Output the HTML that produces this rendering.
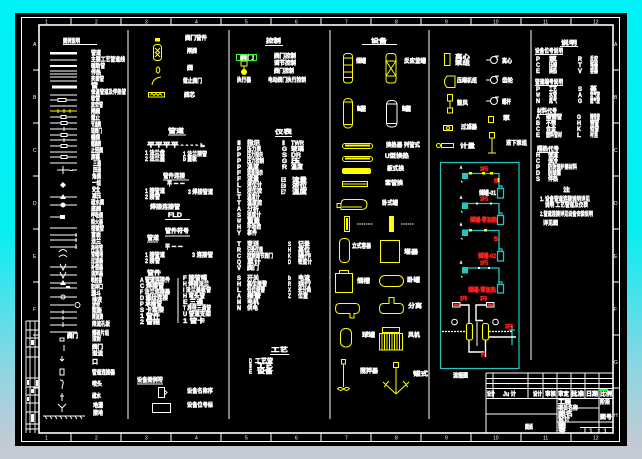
<!DOCTYPE html>
<html><head><meta charset="utf-8"><title>diagram</title>
<style>
html,body{margin:0;padding:0;background:#00f0f4;overflow:hidden;width:642px;height:459px}
svg{display:block}
.t{font-family:"Liberation Sans","Noto Sans CJK SC",sans-serif;font-weight:bold;font-size:6px;fill:#fff;stroke:#fff;stroke-width:0.45}
.s{font-size:5px;font-weight:normal;stroke-width:0}
.r{fill:#ff2020;stroke:#ff2020}
.yy{fill:#ffff00}
</style></head><body>
<svg xmlns="http://www.w3.org/2000/svg" width="642" height="459" viewBox="0 0 642 459">
<defs>
<linearGradient id="bg" x1="0" y1="0" x2="0" y2="1">
<stop offset="0" stop-color="#00f2f6"/>
<stop offset="0.5" stop-color="#06eef2"/>
<stop offset="0.8" stop-color="#8cd6e2"/>
<stop offset="0.97" stop-color="#c4cad4"/>
</linearGradient>
</defs>
<rect width="642" height="459" fill="url(#bg)"/>
<rect x="0" y="446" width="642" height="13" fill="#c4cad4"/>
<rect x="15" y="13" width="612" height="433" fill="#000"/>

<!-- borders -->
<g fill="none" stroke="#fff">
<rect x="21.5" y="17.5" width="598" height="424" stroke-width="1"/>
<rect x="39" y="25" width="574" height="408" stroke-width="1.6"/>
<path stroke-width="1" d="M71 17V25M121 17V25M171 17V25M221 17V25M271 17V25M321 17V25M371 17V25M421 17V25M471 17V25M521 17V25M571 17V25
M71 433V441M121 433V441M171 433V441M221 433V441M271 433V441M321 433V441M371 433V441M421 433V441M471 433V441M521 433V441M571 433V441
M33 70H39M33 123H39M33 176H39M33 229H39M33 282H39M33 335H39M33 388H39
M613 70H619M613 123H619M613 176H619M613 229H619M613 282H619M613 335H619M613 388H619"/>
</g>
<g>
<text class="t s" x="45" y="23.5">1</text><text class="t s" x="95" y="23.5">2</text><text class="t s" x="145" y="23.5">3</text><text class="t s" x="195" y="23.5">4</text><text class="t s" x="245" y="23.5">5</text><text class="t s" x="295" y="23.5">6</text><text class="t s" x="345" y="23.5">7</text><text class="t s" x="395" y="23.5">8</text><text class="t s" x="445" y="23.5">9</text><text class="t s" x="493" y="23.5">10</text><text class="t s" x="543" y="23.5">11</text><text class="t s" x="593" y="23.5">12</text>
<text class="t s" x="45" y="439.5">1</text><text class="t s" x="95" y="439.5">2</text><text class="t s" x="145" y="439.5">3</text><text class="t s" x="195" y="439.5">4</text><text class="t s" x="245" y="439.5">5</text><text class="t s" x="295" y="439.5">6</text><text class="t s" x="345" y="439.5">7</text><text class="t s" x="395" y="439.5">8</text><text class="t s" x="445" y="439.5">9</text><text class="t s" x="493" y="439.5">10</text><text class="t s" x="543" y="439.5">11</text><text class="t s" x="593" y="439.5">12</text>
<text class="t s" x="33" y="46">A</text><text class="t s" x="33" y="99">B</text><text class="t s" x="33" y="152">C</text><text class="t s" x="33" y="205">D</text><text class="t s" x="33" y="258">E</text><text class="t s" x="33" y="311">F</text>
<text class="t s" x="614" y="46">A</text><text class="t s" x="614" y="99">B</text><text class="t s" x="614" y="152">C</text><text class="t s" x="614" y="205">D</text><text class="t s" x="614" y="258">E</text><text class="t s" x="614" y="311">F</text><text class="t s" x="614" y="364">G</text><text class="t s" x="614" y="417">H</text>
</g>

<!-- left rotated title block -->
<g fill="none" stroke="#fff" stroke-width="0.9">
<path d="M26 321V433M30 321V433M35 321V433M26 321H39M26 330H39M26 338H39M26 347H39M26 357H39M26 378H39M26 387H39M26 395H39M26 403H39M26 412H39M26 424H39M26 429H39"/>
</g>
<g fill="#fff"><rect x="31" y="340" width="3" height="5"/><rect x="27" y="380" width="2" height="5"/><rect x="31" y="389" width="3" height="4"/><rect x="36" y="380" width="2" height="6"/><rect x="31" y="414" width="3" height="8"/><rect x="27" y="397" width="2" height="4"/></g>

<!-- column dividers -->
<g stroke="#fff" stroke-width="1">
<path d="M128 30V419M229 30V419M330 30V419M429 30V419M531 30V360"/>
</g>

<!-- ========== COLUMN 1 ========== -->
<text class="t" x="63" y="43" textLength="17" lengthAdjust="spacingAndGlyphs">图例说明</text>
<path d="M63 44.5H97" stroke="#fff"/>
<g fill="#fff">
<rect x="50" y="52" width="27" height="2.5"/>
<rect x="50" y="65" width="27" height="2"/>
<rect x="52" y="85.5" width="25" height="3"/>
</g>
<g stroke="#fff" stroke-width="1" fill="none">
<path d="M50 60H77M50 71H77M50 74H77M50 77H77M50 81H77M50 95H77M50 100H77M50 106H77M50 117H77M50 123H77M50 129H77M50 135H77M50 140H77M50 146H77M50 152H77M50 157H77M50 163H77M57 170H70M72 170H77M50 197H77M50 205H77M50 217H65M50 228H77M50 235H77M50 240H77M50 247H77M50 267H77M50 275H77M50 283H77M50 288H77M50 297H77M50 305H74M50 312H77M50 318H77M50 325H77M50 332H77"/>
<path d="M64 127V131M64 138V142M63 166V174M76 233V237M76 238V242M76 244V249M63 310V314M63 316V320M63 322V327M64 345V351M62 356V361M62 361L60 359M62 361L64 359M62 393V401M60 396H64M58 404L62 408L66 404M62 408V412"/>
<rect x="58" y="98.5" width="8" height="3" fill="#000"/>
<rect x="61" y="115.5" width="5" height="3" fill="#000"/>
<rect x="61" y="121.5" width="6" height="3" fill="#000"/>
<rect x="61" y="133.5" width="6" height="3" fill="#000"/>
<rect x="61" y="144.5" width="6" height="3" fill="#000"/>
<rect x="61" y="155.5" width="6" height="3" fill="#000"/>
<circle cx="77.5" cy="305" r="2.5" fill="#000"/>
<circle cx="63" cy="297" r="2"/>
<path d="M60 264L63 270L66 264M60 272L63 278L66 272"/>
<path d="M59 252Q63 247 67 252M59 257Q63 253 67 257"/>
<rect x="60" y="338" width="4" height="3"/>
<rect x="60" y="369" width="4" height="6"/>
<path d="M60 380Q64 380 63 384Q62 387 62 389"/>
<path d="M43 416H85"/>
<path d="M45 416L47 419M50 416L52 419M55 416L57 419M60 416L62 419M65 416L67 419M70 416L72 419M75 416L77 419M80 416L82 419"/>
</g>
<g fill="#fff">
<path d="M63 182L66 185L63 188L60 185Z"/>
<path d="M60 199L63 194L66 199Z"/>
<circle cx="63" cy="205" r="2.5"/>
<path d="M60 285L63 280L66 285Z"/>
<rect x="66" y="286" width="4" height="2"/>
<rect x="60" y="215" width="5" height="4"/>
<rect x="70" y="170" width="3" height="1"/>
</g>
<path d="M50 111H77" stroke="#ffff00"/>
<path d="M58 109V113M64 109V113M70 109V113" stroke="#ffff00"/>
<g>
<text class="t" x="91" y="55" textLength="10" lengthAdjust="spacingAndGlyphs">管道</text>
<text class="t" x="91" y="61.5" textLength="34" lengthAdjust="spacingAndGlyphs">主要工艺管道线</text>
<text class="t" x="91" y="68" textLength="14" lengthAdjust="spacingAndGlyphs">辅助管</text>
<text class="t" x="91" y="74.5" textLength="10" lengthAdjust="spacingAndGlyphs">伴热</text>
<text class="t" x="91" y="81" textLength="13" lengthAdjust="spacingAndGlyphs">夹套管</text>
<text class="t" x="91" y="87.5" textLength="7" lengthAdjust="spacingAndGlyphs">管</text>
<text class="t" x="91" y="94" textLength="35" lengthAdjust="spacingAndGlyphs">保温管道及伴热管</text>
<text class="t" x="91" y="100.5" textLength="9" lengthAdjust="spacingAndGlyphs">软管</text>
<text class="t" x="91" y="107" textLength="12" lengthAdjust="spacingAndGlyphs">放空管</text>
<text class="t" x="91" y="113.5" textLength="9" lengthAdjust="spacingAndGlyphs">闸阀</text>
<text class="t" x="91" y="120" textLength="9" lengthAdjust="spacingAndGlyphs">截止</text>
<text class="t" x="91" y="126.5" textLength="10" lengthAdjust="spacingAndGlyphs">节流阀</text>
<text class="t" x="91" y="133" textLength="11" lengthAdjust="spacingAndGlyphs">球阀门</text>
<text class="t" x="91" y="139.5" textLength="9" lengthAdjust="spacingAndGlyphs">蝶阀</text>
<text class="t" x="91" y="146" textLength="10" lengthAdjust="spacingAndGlyphs">隔膜阀</text>
<text class="t" x="91" y="152.5" textLength="12" lengthAdjust="spacingAndGlyphs">止回阀</text>
<text class="t" x="91" y="159" textLength="9" lengthAdjust="spacingAndGlyphs">旋塞</text>
<text class="t" x="93" y="165.5" textLength="8" lengthAdjust="spacingAndGlyphs">三通</text>
<text class="t" x="93" y="172" textLength="8" lengthAdjust="spacingAndGlyphs">四通</text>
<text class="t" x="92" y="178.5" textLength="9" lengthAdjust="spacingAndGlyphs">角阀</text>
<text class="t" x="92" y="185" textLength="9" lengthAdjust="spacingAndGlyphs">一组</text>
<text class="t" x="92" y="191.5" textLength="8" lengthAdjust="spacingAndGlyphs">安全</text>
<text class="t" x="92" y="198" textLength="9" lengthAdjust="spacingAndGlyphs">减压</text>
<text class="t" x="91" y="204.5" textLength="13" lengthAdjust="spacingAndGlyphs">疏水阀</text>
<text class="t" x="91" y="211" textLength="10" lengthAdjust="spacingAndGlyphs">底阀</text>
<text class="t" x="91" y="217.5" textLength="12" lengthAdjust="spacingAndGlyphs">呼吸阀</text>
<text class="t" x="91" y="224" textLength="12" lengthAdjust="spacingAndGlyphs">阻火器</text>
<text class="t" x="91" y="230.5" textLength="13" lengthAdjust="spacingAndGlyphs">视镜管</text>
<text class="t" x="91" y="237" textLength="10" lengthAdjust="spacingAndGlyphs">盲板</text>
<text class="t" x="91" y="243.5" textLength="10" lengthAdjust="spacingAndGlyphs">法兰</text>
<text class="t" x="91" y="250" textLength="12" lengthAdjust="spacingAndGlyphs">异径管</text>
<text class="t" x="91" y="256.5" textLength="12" lengthAdjust="spacingAndGlyphs">管帽堵</text>
<text class="t" x="91" y="263" textLength="12" lengthAdjust="spacingAndGlyphs">过滤器</text>
<text class="t" x="91" y="269.5" textLength="12" lengthAdjust="spacingAndGlyphs">补偿器</text>
<text class="t" x="91" y="276" textLength="12" lengthAdjust="spacingAndGlyphs">消声器</text>
<text class="t" x="91" y="282.5" textLength="11" lengthAdjust="spacingAndGlyphs">喷射器</text>
<text class="t" x="91" y="289" textLength="12" lengthAdjust="spacingAndGlyphs">取样口</text>
<text class="t" x="91" y="295.5" textLength="10" lengthAdjust="spacingAndGlyphs">漏斗</text>
<text class="t" x="92" y="302" textLength="10" lengthAdjust="spacingAndGlyphs">排液</text>
<text class="t" x="92" y="307.5" textLength="8" lengthAdjust="spacingAndGlyphs">放空</text>
<text class="t" x="92" y="313" textLength="10" lengthAdjust="spacingAndGlyphs">阻断</text>
<text class="t" x="92" y="319" textLength="11" lengthAdjust="spacingAndGlyphs">限流阀</text>
<text class="t" x="92" y="326" textLength="18" lengthAdjust="spacingAndGlyphs">限流孔板</text>
<text class="t" x="92" y="335" textLength="17" lengthAdjust="spacingAndGlyphs">爆破片组</text>
<text class="t" x="92" y="341" textLength="9" lengthAdjust="spacingAndGlyphs">液封</text>
<text class="t" x="92" y="349" textLength="11" lengthAdjust="spacingAndGlyphs">阀门</text>
<text class="t" x="92" y="355.5" textLength="11" lengthAdjust="spacingAndGlyphs">溢流</text>
<text class="t" x="92" y="364" textLength="6" lengthAdjust="spacingAndGlyphs">口</text>
<text class="t" x="92" y="374.5" textLength="23" lengthAdjust="spacingAndGlyphs">管道连接器</text>
<text class="t" x="92" y="386" textLength="10" lengthAdjust="spacingAndGlyphs">喷头</text>
<text class="t" x="92" y="398" textLength="9" lengthAdjust="spacingAndGlyphs">疏水</text>
<text class="t" x="93" y="407.5" textLength="10" lengthAdjust="spacingAndGlyphs">地漏</text>
<text class="t" x="93" y="415" textLength="10" lengthAdjust="spacingAndGlyphs">接地</text>
<text class="t" x="67" y="338" textLength="11" lengthAdjust="spacingAndGlyphs">阀门</text>
</g>

<!-- ========== COLUMN 2 ========== -->
<g fill="none" stroke="#ffff00" stroke-width="1">
<rect x="153.5" y="44.5" width="8" height="16" rx="3"/>
<path d="M155 48L160 53M155 53L160 48M155 52L160 57M155 57L160 52"/>
<ellipse cx="158" cy="70" rx="1.8" ry="3"/>
<path d="M152 85Q153 78 161 77"/>
<rect x="148.5" y="92.5" width="16" height="4.5"/>
<path d="M150 95L152 93.5L154 95.5L156 93.5L158 95.5L160 93.5L162 95.5"/>
</g>
<rect x="155" y="38" width="5" height="3.5" fill="#ffff00"/>
<g>
<text class="t" x="185" y="40" textLength="22" lengthAdjust="spacingAndGlyphs">阀门管件</text>
<text class="t" x="187" y="53" textLength="10" lengthAdjust="spacingAndGlyphs">闸阀</text>
<text class="t" x="187" y="70" textLength="6" lengthAdjust="spacingAndGlyphs">阀</text>
<text class="t" x="183" y="83" textLength="19" lengthAdjust="spacingAndGlyphs">截止阀门</text>
<text class="t" x="184" y="97" textLength="11" lengthAdjust="spacingAndGlyphs">阀芯</text>

<text class="t" x="168" y="133" textLength="16" lengthAdjust="spacingAndGlyphs">管道</text>
<text class="t" x="147" y="147" textLength="58" lengthAdjust="spacingAndGlyphs">平平平平 - - - - ь</text>
<text class="t" x="145" y="155" textLength="20" lengthAdjust="spacingAndGlyphs">1 法兰盘</text>
<text class="t" x="145" y="161" textLength="20" lengthAdjust="spacingAndGlyphs">2 法兰盖</text>
<text class="t" x="183" y="156" textLength="24" lengthAdjust="spacingAndGlyphs">1 法兰接管</text>
<text class="t" x="183" y="161" textLength="14" lengthAdjust="spacingAndGlyphs">b 盖板</text>
<text class="t" x="163" y="178" textLength="22" lengthAdjust="spacingAndGlyphs">管件连接</text>
<text class="t" x="167" y="186" textLength="18" lengthAdjust="spacingAndGlyphs">平 ー ー</text>
<text class="t" x="145" y="193" textLength="20" lengthAdjust="spacingAndGlyphs">1 接管道</text>
<text class="t" x="145" y="199" textLength="15" lengthAdjust="spacingAndGlyphs">2 接管</text>
<text class="t" x="188" y="194" textLength="25" lengthAdjust="spacingAndGlyphs">3 焊接管道</text>
<text class="t" x="150" y="209" textLength="30" lengthAdjust="spacingAndGlyphs">焊接连接管</text>
<text class="t" x="168" y="217" textLength="14" lengthAdjust="spacingAndGlyphs">FLD</text>
<text class="t" x="165" y="233" textLength="24" lengthAdjust="spacingAndGlyphs">管件符号</text>
<text class="t" x="147" y="240" textLength="12" lengthAdjust="spacingAndGlyphs">管道</text>
<text class="t" x="165" y="249" textLength="18" lengthAdjust="spacingAndGlyphs">平 ー ー</text>
<text class="t" x="145" y="257" textLength="20" lengthAdjust="spacingAndGlyphs">1 接管道</text>
<text class="t" x="145" y="263" textLength="15" lengthAdjust="spacingAndGlyphs">2 接管</text>
<text class="t" x="192" y="257" textLength="21" lengthAdjust="spacingAndGlyphs">3 连接管</text>
<text class="t" x="147" y="275" textLength="14" lengthAdjust="spacingAndGlyphs">管件</text>
<text class="t" x="140" y="282" textLength="30" lengthAdjust="spacingAndGlyphs">A 管道连接件</text>
<text class="t" x="140" y="288" textLength="24" lengthAdjust="spacingAndGlyphs">C 焊接管</text>
<text class="t" x="140" y="294" textLength="30" lengthAdjust="spacingAndGlyphs">F 法兰连接器</text>
<text class="t" x="140" y="300" textLength="28" lengthAdjust="spacingAndGlyphs">D 螺纹连接</text>
<text class="t" x="140" y="306" textLength="22" lengthAdjust="spacingAndGlyphs">P 承插管</text>
<text class="t" x="140" y="312" textLength="24" lengthAdjust="spacingAndGlyphs">S 卡套接</text>
<text class="t" x="140" y="318" textLength="20" lengthAdjust="spacingAndGlyphs">1 管件</text>
<text class="t" x="140" y="324" textLength="20" lengthAdjust="spacingAndGlyphs">2 管箍</text>
<text class="t" x="183" y="280" textLength="24" lengthAdjust="spacingAndGlyphs">F 接管嘴</text>
<text class="t" x="183" y="286" textLength="26" lengthAdjust="spacingAndGlyphs">H 焊接法兰</text>
<text class="t" x="183" y="292" textLength="28" lengthAdjust="spacingAndGlyphs">I 法兰盖板管</text>
<text class="t" x="183" y="298" textLength="22" lengthAdjust="spacingAndGlyphs">H 弯头管</text>
<text class="t" x="183" y="304" textLength="20" lengthAdjust="spacingAndGlyphs">E 三通</text>
<text class="t" x="183" y="310" textLength="28" lengthAdjust="spacingAndGlyphs">T 异径三通管</text>
<text class="t" x="183" y="316" textLength="28" lengthAdjust="spacingAndGlyphs">U 管道支架</text>
<text class="t" x="183" y="323" textLength="22" lengthAdjust="spacingAndGlyphs">1 管卡</text>

<text class="t" x="137" y="382" textLength="26" lengthAdjust="spacingAndGlyphs">设备图例符</text>
<text class="t" x="187" y="393" textLength="26" lengthAdjust="spacingAndGlyphs">设备名称序</text>
<text class="t" x="187" y="407" textLength="26" lengthAdjust="spacingAndGlyphs">设备位号标</text>
</g>
<g stroke="#fff" fill="none" stroke-width="1">
<path d="M168 135H186M163 180H189M165 219.5H190M165 236H190M147 242H158M147 277H161M178 278V323M137 384H163"/>
<path d="M158.5 387.5H164.5V397.5H158.5ZM164.5 390L167 392.5L164.5 395"/>
<rect x="152.5" y="403.5" width="18" height="9"/>
</g>

<!-- ========== COLUMN 3 ========== -->
<g>
<text class="t" x="266" y="43" textLength="15" lengthAdjust="spacingAndGlyphs">控制</text>
<text class="t" x="240" y="59.5" textLength="14" lengthAdjust="spacingAndGlyphs">阀门</text>
<text class="t" x="237" y="82" textLength="14" lengthAdjust="spacingAndGlyphs">执行器</text>
<text class="t" x="274" y="58" textLength="22" lengthAdjust="spacingAndGlyphs">阀门控制</text>
<text class="t" x="274" y="65" textLength="22" lengthAdjust="spacingAndGlyphs">调节控制</text>
<text class="t" x="274" y="73" textLength="20" lengthAdjust="spacingAndGlyphs">阀门控制</text>
<text class="t" x="268" y="82" textLength="38" lengthAdjust="spacingAndGlyphs">电动阀门执行控制</text>
<text class="t" x="275" y="134" textLength="17" lengthAdjust="spacingAndGlyphs">仪表</text>
</g>
<path d="M265 45.5H283M275 136.5H292" stroke="#fff"/>
<rect x="236.5" y="54.5" width="20" height="6" fill="none" stroke="#33ff33"/>
<rect x="241" y="61" width="6" height="5" fill="none" stroke="#ffff00"/>
<circle cx="244" cy="72" r="3" fill="#ffff00"/>
<path d="M244 66V69" stroke="#ffff00"/>
<g>
<text class="t" x="237" y="145" textLength="4" lengthAdjust="spacingAndGlyphs">I</text><text class="t" x="247" y="145" textLength="13" lengthAdjust="spacingAndGlyphs">指示</text>
<text class="t" x="237" y="151" textLength="4" lengthAdjust="spacingAndGlyphs">P</text><text class="t" x="247" y="151" textLength="14" lengthAdjust="spacingAndGlyphs">压力表</text>
<text class="t" x="237" y="157" textLength="4" lengthAdjust="spacingAndGlyphs">P</text><text class="t" x="247" y="157" textLength="16" lengthAdjust="spacingAndGlyphs">压力指示</text>
<text class="t" x="237" y="163" textLength="4" lengthAdjust="spacingAndGlyphs">P</text><text class="t" x="247" y="163" textLength="17" lengthAdjust="spacingAndGlyphs">压力控制</text>
<text class="t" x="237" y="169" textLength="4" lengthAdjust="spacingAndGlyphs">P</text><text class="t" x="247" y="169" textLength="12" lengthAdjust="spacingAndGlyphs">温度</text>
<text class="t" x="237" y="175" textLength="4" lengthAdjust="spacingAndGlyphs">F</text><text class="t" x="247" y="175" textLength="16" lengthAdjust="spacingAndGlyphs">流量指示</text>
<text class="t" x="237" y="181" textLength="4" lengthAdjust="spacingAndGlyphs">F</text><text class="t" x="247" y="181" textLength="12" lengthAdjust="spacingAndGlyphs">流量</text>
<text class="t" x="237" y="187" textLength="4" lengthAdjust="spacingAndGlyphs">L</text><text class="t" x="247" y="187" textLength="15" lengthAdjust="spacingAndGlyphs">液位计</text>
<text class="t" x="237" y="193" textLength="4" lengthAdjust="spacingAndGlyphs">L</text><text class="t" x="247" y="193" textLength="15" lengthAdjust="spacingAndGlyphs">液位控</text>
<text class="t" x="237" y="199" textLength="4" lengthAdjust="spacingAndGlyphs">T</text><text class="t" x="247" y="199" textLength="13" lengthAdjust="spacingAndGlyphs">温度计</text>
<text class="t" x="237" y="205" textLength="4" lengthAdjust="spacingAndGlyphs">T</text><text class="t" x="247" y="205" textLength="15" lengthAdjust="spacingAndGlyphs">温度控</text>
<text class="t" x="237" y="211" textLength="4" lengthAdjust="spacingAndGlyphs">A</text><text class="t" x="247" y="211" textLength="12" lengthAdjust="spacingAndGlyphs">分析</text>
<text class="t" x="237" y="217" textLength="4" lengthAdjust="spacingAndGlyphs">S</text><text class="t" x="247" y="217" textLength="14" lengthAdjust="spacingAndGlyphs">速度计</text>
<text class="t" x="237" y="223" textLength="4" lengthAdjust="spacingAndGlyphs">W</text><text class="t" x="247" y="223" textLength="13" lengthAdjust="spacingAndGlyphs">重量</text>
<text class="t" x="237" y="229" textLength="4" lengthAdjust="spacingAndGlyphs">H</text><text class="t" x="247" y="229" textLength="14" lengthAdjust="spacingAndGlyphs">手动控</text>
<text class="t" x="237" y="235" textLength="4" lengthAdjust="spacingAndGlyphs">Y</text><text class="t" x="247" y="235" textLength="10" lengthAdjust="spacingAndGlyphs">事件</text>

<text class="t" x="237" y="246" textLength="4" lengthAdjust="spacingAndGlyphs">T</text><text class="t" x="247" y="246" textLength="12" lengthAdjust="spacingAndGlyphs">变送</text>
<text class="t" x="237" y="252" textLength="4" lengthAdjust="spacingAndGlyphs">R</text><text class="t" x="247" y="252" textLength="16" lengthAdjust="spacingAndGlyphs">记录仪表</text>
<text class="t" x="237" y="258" textLength="4" lengthAdjust="spacingAndGlyphs">C</text><text class="t" x="247" y="258" textLength="26" lengthAdjust="spacingAndGlyphs">控制调节阀门</text>
<text class="t" x="237" y="264" textLength="4" lengthAdjust="spacingAndGlyphs">Q</text><text class="t" x="247" y="264" textLength="14" lengthAdjust="spacingAndGlyphs">累计</text>
<text class="t" x="237" y="270" textLength="4" lengthAdjust="spacingAndGlyphs">V</text><text class="t" x="247" y="270" textLength="12" lengthAdjust="spacingAndGlyphs">阀门</text>

<text class="t" x="237" y="280" textLength="4" lengthAdjust="spacingAndGlyphs">S</text><text class="t" x="247" y="280" textLength="12" lengthAdjust="spacingAndGlyphs">开关</text>
<text class="t" x="237" y="286" textLength="4" lengthAdjust="spacingAndGlyphs">H</text><text class="t" x="247" y="286" textLength="20" lengthAdjust="spacingAndGlyphs">高位报警</text>
<text class="t" x="237" y="292" textLength="4" lengthAdjust="spacingAndGlyphs">L</text><text class="t" x="247" y="292" textLength="18" lengthAdjust="spacingAndGlyphs">低位报警</text>
<text class="t" x="237" y="298" textLength="4" lengthAdjust="spacingAndGlyphs">A</text><text class="t" x="247" y="298" textLength="14" lengthAdjust="spacingAndGlyphs">报警</text>
<text class="t" x="237" y="304" textLength="4" lengthAdjust="spacingAndGlyphs">M</text><text class="t" x="247" y="304" textLength="12" lengthAdjust="spacingAndGlyphs">电机</text>
<text class="t" x="237" y="310" textLength="4" lengthAdjust="spacingAndGlyphs">N</text><text class="t" x="247" y="310" textLength="11" lengthAdjust="spacingAndGlyphs">供电</text>

<text class="t" x="282" y="145" textLength="3" lengthAdjust="spacingAndGlyphs">I</text><text class="t" x="291" y="145" textLength="13" lengthAdjust="spacingAndGlyphs">TWR</text>
<text class="t" x="282" y="151" textLength="5" lengthAdjust="spacingAndGlyphs">G</text><text class="t" x="291" y="151" textLength="13" lengthAdjust="spacingAndGlyphs">玻璃</text>
<text class="t" x="282" y="157" textLength="5" lengthAdjust="spacingAndGlyphs">S</text><text class="t" x="291" y="157" textLength="10" lengthAdjust="spacingAndGlyphs">DR</text>
<text class="t" x="282" y="163" textLength="5" lengthAdjust="spacingAndGlyphs">G</text><text class="t" x="291" y="163" textLength="9" lengthAdjust="spacingAndGlyphs">压</text>
<text class="t" x="282" y="169" textLength="5" lengthAdjust="spacingAndGlyphs">R</text><text class="t" x="291" y="169" textLength="12" lengthAdjust="spacingAndGlyphs">温度</text>
<text class="t" x="281" y="182" textLength="5" lengthAdjust="spacingAndGlyphs">E5</text><text class="t" x="292" y="182" textLength="15" lengthAdjust="spacingAndGlyphs">流量</text>
<text class="t" x="281" y="188" textLength="5" lengthAdjust="spacingAndGlyphs">E6</text><text class="t" x="292" y="188" textLength="15" lengthAdjust="spacingAndGlyphs">液位</text>
<text class="t" x="281" y="194" textLength="5" lengthAdjust="spacingAndGlyphs">E7</text><text class="t" x="292" y="194" textLength="15" lengthAdjust="spacingAndGlyphs">温度</text>
<text class="t" x="288" y="246" textLength="3" lengthAdjust="spacingAndGlyphs">S</text><text class="t" x="298" y="246" textLength="12" lengthAdjust="spacingAndGlyphs">记录</text>
<text class="t" x="288" y="252" textLength="3" lengthAdjust="spacingAndGlyphs">H</text><text class="t" x="298" y="252" textLength="12" lengthAdjust="spacingAndGlyphs">高位</text>
<text class="t" x="288" y="258" textLength="3" lengthAdjust="spacingAndGlyphs">K</text><text class="t" x="298" y="258" textLength="13" lengthAdjust="spacingAndGlyphs">操作</text>
<text class="t" x="288" y="264" textLength="3" lengthAdjust="spacingAndGlyphs">D</text><text class="t" x="298" y="264" textLength="14" lengthAdjust="spacingAndGlyphs">密度计</text>
<text class="t" x="288" y="280" textLength="3" lengthAdjust="spacingAndGlyphs">b</text><text class="t" x="298" y="280" textLength="12" lengthAdjust="spacingAndGlyphs">电流</text>
<text class="t" x="288" y="286" textLength="3" lengthAdjust="spacingAndGlyphs">R</text><text class="t" x="298" y="286" textLength="13" lengthAdjust="spacingAndGlyphs">运行</text>
<text class="t" x="288" y="292" textLength="3" lengthAdjust="spacingAndGlyphs">X</text><text class="t" x="298" y="292" textLength="13" lengthAdjust="spacingAndGlyphs">未分类</text>
<text class="t" x="288" y="298" textLength="3" lengthAdjust="spacingAndGlyphs">Z</text><text class="t" x="298" y="298" textLength="10" lengthAdjust="spacingAndGlyphs">位置</text>

<text class="t" x="271" y="352" textLength="17" lengthAdjust="spacingAndGlyphs">工艺</text>
<text class="t" x="249" y="363" textLength="3" lengthAdjust="spacingAndGlyphs">D</text><text class="t" x="255" y="363" textLength="18" lengthAdjust="spacingAndGlyphs">工艺管</text>
<text class="t" x="249" y="368" textLength="3" lengthAdjust="spacingAndGlyphs">I</text><text class="t" x="257" y="368" textLength="16" lengthAdjust="spacingAndGlyphs">工艺</text>
<text class="t" x="249" y="373.5" textLength="3" lengthAdjust="spacingAndGlyphs">E</text><text class="t" x="257" y="373.5" textLength="16" lengthAdjust="spacingAndGlyphs">设备</text>
</g>
<path d="M270 354.5H289" stroke="#fff"/>

<!-- ========== COLUMN 4 ========== -->
<text class="t" x="371" y="43" textLength="16" lengthAdjust="spacingAndGlyphs">设备</text>
<path d="M362 44.5H397" stroke="#fff"/>
<g fill="none" stroke="#ffff00" stroke-width="1">
<rect x="343.5" y="53.5" width="9" height="29.5" rx="3"/>
<path d="M343.5 58H352.5M343.5 65H352.5M343.5 72H352.5M343.5 77.5H352.5"/>
<rect x="386" y="53.5" width="10" height="29.5" rx="3"/>
<path d="M386 61H396M386 76H396M386 61L396 76M396 61L386 76"/>
<rect x="343.5" y="98.5" width="9" height="29.5" rx="4"/>
<path d="M343.5 102H352.5M343.5 124.5H352.5"/>
<rect x="342.5" y="143.5" width="30" height="5" rx="2.5"/>
<rect x="342.5" y="156.5" width="30" height="5" rx="2.5"/>
<rect x="342.5" y="168.5" width="28" height="5" rx="1.5"/>
<rect x="342.5" y="181.5" width="25" height="5"/>
<path d="M342.5 184H367.5"/>
<path d="M345 199.5H361Q367 199.5 367 204.5Q367 209.5 361 209.5H341V204.5Q341 199.5 345 199.5ZM337 203.5H341V207.5H337Z"/>
<path d="M342 207H362"/>
<rect x="344.5" y="216.5" width="5" height="15"/>
<rect x="339.5" y="238.5" width="10" height="24" rx="4"/>
<rect x="380.5" y="240.5" width="19" height="22"/>
<rect x="335.5" y="273.5" width="17" height="19"/>
<path d="M339.5 273.5V270.5H348.5V273.5"/>
<rect x="379.5" y="275.5" width="24" height="11" rx="5.5"/>
<path d="M339.5 303.5H355.5Q359.5 303.5 359.5 308.5Q359.5 313.5 355.5 313.5H354V318H350V313.5H339.5Q335.5 313.5 335.5 308.5Q335.5 303.5 339.5 303.5Z"/>
<path d="M383.5 303.5H389V297.5H394V303.5H399.5Q403.5 303.5 403.5 308.5Q403.5 313.5 399.5 313.5H383.5Q379.5 313.5 379.5 308.5Q379.5 303.5 383.5 303.5Z"/>
<rect x="340.5" y="328.5" width="11" height="18.5" rx="5"/>
<rect x="382.5" y="327.5" width="17" height="5"/>
<rect x="379.5" y="333.5" width="23" height="16.5"/>
<path d="M382 334V350M384.5 334V350M387 334V350M389.5 334V350M392 334V350M394.5 334V350M397 334V350M399.5 334V350"/>
<rect x="341.5" y="359.5" width="4" height="4.5"/>
<path d="M343.5 364V387"/>
<path d="M343.5 389Q340 386 337.5 388.5Q340 392 343.5 389Q347 386 349.5 388.5Q347 392 343.5 389"/>
<rect x="393.5" y="362.5" width="5" height="5"/>
<path d="M396 367.5V394M383 382L396 394L409 382M386 384L389 381M403 381L406 384M384 387L386 385M406 385L408 387"/>
</g>
<g fill="#ffff00">
<rect x="345" y="144.5" width="25" height="2"/>
<rect x="345" y="157.5" width="25" height="2"/>
<rect x="343" y="169" width="27" height="4"/>
<rect x="389" y="216" width="5" height="16"/>
<rect x="346" y="218" width="2" height="12"/>
</g>
<path d="M396 217V222" stroke="#000"/>
<g fill="none" stroke="#fff" stroke-width="1">
<rect x="386.5" y="100.5" width="10.5" height="26.5" rx="4"/>
<path d="M386.5 104H397M386.5 123.5H397"/>
<path d="M357 224H373M401 224H414" stroke-dasharray="1.5 0.7"/>
</g>
<g>
<text class="t" x="356" y="63" textLength="10" lengthAdjust="spacingAndGlyphs">储罐</text>
<text class="t" x="404" y="63" textLength="22" lengthAdjust="spacingAndGlyphs">反应釜罐</text>
<text class="t" x="357" y="111" textLength="9" lengthAdjust="spacingAndGlyphs">罐</text>
<text class="t" x="402" y="111" textLength="9" lengthAdjust="spacingAndGlyphs">罐</text>
<text class="t" x="386" y="147" textLength="34" lengthAdjust="spacingAndGlyphs">换热器 列管式</text>
<text class="t" x="385" y="158" textLength="24" lengthAdjust="spacingAndGlyphs">U型换热</text>
<text class="t" x="387" y="170.5" textLength="17" lengthAdjust="spacingAndGlyphs">板式换</text>
<text class="t" x="385" y="185" textLength="18" lengthAdjust="spacingAndGlyphs">套管换</text>
<text class="t" x="382" y="205" textLength="16" lengthAdjust="spacingAndGlyphs">卧式罐</text>
<text class="t" x="352" y="248" textLength="19" lengthAdjust="spacingAndGlyphs">立式容器</text>
<text class="t" x="404" y="254" textLength="14" lengthAdjust="spacingAndGlyphs">塔器</text>
<text class="t" x="357" y="283" textLength="13" lengthAdjust="spacingAndGlyphs">储槽</text>
<text class="t" x="407" y="282" textLength="13" lengthAdjust="spacingAndGlyphs">卧罐</text>
<text class="t" x="408" y="308" textLength="14" lengthAdjust="spacingAndGlyphs">分离</text>
<text class="t" x="362" y="337" textLength="13" lengthAdjust="spacingAndGlyphs">球罐</text>
<text class="t" x="408" y="337" textLength="12" lengthAdjust="spacingAndGlyphs">风机</text>
<text class="t" x="360" y="373" textLength="18" lengthAdjust="spacingAndGlyphs">搅拌器</text>
<text class="t" x="413" y="376" textLength="15" lengthAdjust="spacingAndGlyphs">锚式</text>
</g>

<!-- ========== COLUMN 5 ========== -->
<g fill="none" stroke="#ffff00" stroke-width="1">
<rect x="444.5" y="53.5" width="5.5" height="12"/>
<path d="M447 76H455V87.5H447Q442 82 447 76Z"/>
<rect x="447.5" y="94.5" width="5" height="6.5"/>
<path d="M450 101V108"/>
<rect x="447.5" y="108" width="5" height="5"/>
<rect x="443.5" y="125.5" width="9" height="5"/>
<circle cx="448" cy="128" r="1.5"/>
<rect x="441.5" y="143.5" width="12" height="4"/>
<circle cx="438.5" cy="145.5" r="2"/>
<rect x="488.5" y="116.5" width="5" height="6"/>
<rect x="489.5" y="132.5" width="5" height="5.5"/>
<path d="M492 138V153M488 153H496"/>
</g>
<g fill="none" stroke="#fff" stroke-width="1">
<path d="M486 60H490.5M486 80H490.5M486 101H490.5"/>
<circle cx="494" cy="60" r="3.5"/><circle cx="494" cy="80" r="3.5"/><circle cx="494" cy="101" r="3.5"/>
<path d="M497 56V60M497 76V80M497 97V101M495 56H499M495 76H499M495 97H499"/>
</g>
<g>
<text class="t" x="455" y="59" textLength="15" lengthAdjust="spacingAndGlyphs">离心</text>
<text class="t" x="455" y="65" textLength="15" lengthAdjust="spacingAndGlyphs">泵组</text>
<text class="t" x="457" y="82.5" textLength="20" lengthAdjust="spacingAndGlyphs">压缩机组</text>
<text class="t" x="457" y="105" textLength="11" lengthAdjust="spacingAndGlyphs">鼓风</text>
<text class="t" x="461" y="129" textLength="16" lengthAdjust="spacingAndGlyphs">过滤器</text>
<text class="t" x="460" y="148" textLength="15" lengthAdjust="spacingAndGlyphs">计量</text>
<text class="t" x="502" y="63" textLength="10" lengthAdjust="spacingAndGlyphs">离心</text>
<text class="t" x="502" y="82.5" textLength="11" lengthAdjust="spacingAndGlyphs">齿轮</text>
<text class="t" x="502" y="104" textLength="9" lengthAdjust="spacingAndGlyphs">螺杆</text>
<text class="t" x="503" y="120" textLength="7" lengthAdjust="spacingAndGlyphs">泵</text>
<text class="t" x="506" y="145" textLength="21" lengthAdjust="spacingAndGlyphs">液下泵组</text>
</g>

<!-- flow box -->
<rect x="440.5" y="162.5" width="78.5" height="206" fill="none" stroke="#22c8c0" stroke-width="1.2"/>
<g fill="none" stroke="#22c8c0" stroke-width="1.3">
<path d="M468 173.5H499V186M468 203.5H499V213M468 230.5H499V249M468 268H499V283"/>
<path d="M497.5 188.5h6v9.5h-6zM499 188.5v-2.5h3v2.5"/>
<path d="M497.5 215.5h6v9h-6zM499 215.5v-2.5h3v2.5"/>
<path d="M497.5 251.5h6v9.5h-6zM499 251.5v-2.5h3v2.5"/>
<path d="M497.5 284.5h6v8.5h-6zM499 284.5v-2.5h3v2.5"/>
<path d="M512 326V345M509 330H515"/>
</g>
<g fill="#22c8c0">
<rect x="462" y="173" width="6" height="6"/>
<rect x="462" y="202.5" width="6" height="6.5"/>
<rect x="462" y="229.5" width="6" height="6.5"/>
<rect x="462" y="267" width="6" height="6.5"/>
</g>
<g fill="#ffff00">
<rect x="469" y="172" width="3" height="2.5"/><rect x="482" y="172" width="3" height="2.5"/><rect x="490" y="172" width="3" height="2.5"/>
<rect x="469" y="229" width="3" height="2.5"/><rect x="484" y="229" width="3" height="2.5"/>
<rect x="497.5" y="178" width="2" height="4"/>
</g>
<g fill="#fff">
<rect x="476" y="202.5" width="2" height="2"/><rect x="490" y="202.5" width="2" height="2"/>
<rect x="478" y="267" width="2" height="2"/><rect x="488" y="267" width="2" height="2"/>
</g>
<g fill="none" stroke="#fff" stroke-width="1">
<path d="M460 169L461 166.5L462 169M460 199L461 196.5L462 199M460 226L461 223.5L462 226M460 264L461 261.5L462 264M461 181L462.5 182.5M461 211L462.5 212.5M461 238L462.5 239.5M461 276L462.5 277.5"/>
<rect x="452.5" y="302.5" width="7.5" height="4.5" stroke="#fff"/>
<rect x="486.5" y="302.5" width="7.5" height="4.5" stroke="#fff"/>
<path d="M460 305H469V323M486.5 305H476V320.5H483" stroke-width="1.4"/>
<path d="M469 309V320M476 309V320" stroke-dasharray="1.5 1"/>
<circle cx="454.5" cy="322" r="2.8"/><circle cx="495.5" cy="322" r="2.8"/>
<path d="M442 331.5H466M489 331.5H513" stroke-width="1.3" stroke-dasharray="2 1"/>
<path d="M469 340V352H484M485.5 340V357M489 337H516" stroke-width="1.4"/>
<path d="M477 322V346" stroke-width="1"/>
</g>
<g fill="#ff2020"><rect x="453.5" y="303.5" width="5.5" height="2.5"/><rect x="487.5" y="303.5" width="5.5" height="2.5"/></g>
<g fill="none" stroke="#ffff00" stroke-width="1.1">
<rect x="466.5" y="323.5" width="6" height="16.5" rx="2"/>
<rect x="482.5" y="323.5" width="6" height="16.5" rx="2"/>
</g>
<g>
<text class="t r" x="480" y="171" textLength="8" lengthAdjust="spacingAndGlyphs">3F5</text>
<text class="t r" x="480" y="201" textLength="8" lengthAdjust="spacingAndGlyphs">3F5</text>
<text class="t r" x="480" y="265" textLength="8" lengthAdjust="spacingAndGlyphs">3F5</text>
<text class="t r" x="494" y="183" textLength="4" lengthAdjust="spacingAndGlyphs">5</text>
<text class="t r" x="494" y="241" textLength="4" lengthAdjust="spacingAndGlyphs">5</text>
<text class="t" x="479" y="195" textLength="17" lengthAdjust="spacingAndGlyphs">储罐-01</text>
<text class="t r" x="470" y="222" textLength="27" lengthAdjust="spacingAndGlyphs">储罐-带加热</text>
<text class="t r" x="478" y="258" textLength="18" lengthAdjust="spacingAndGlyphs">储罐-02</text>
<text class="t r" x="468" y="292" textLength="28" lengthAdjust="spacingAndGlyphs">储罐-带加热</text>
<text class="t r" x="460" y="300.5" textLength="7" lengthAdjust="spacingAndGlyphs">3F6</text>
<text class="t r" x="480" y="300.5" textLength="7" lengthAdjust="spacingAndGlyphs">3F6</text>
<text class="t r" x="505" y="328.5" textLength="8" lengthAdjust="spacingAndGlyphs">3F6</text>
<text class="t r" x="481" y="357" textLength="4" lengthAdjust="spacingAndGlyphs">F</text>
<text class="t" x="453" y="377.5" textLength="15" lengthAdjust="spacingAndGlyphs">流程图</text>
</g>

<!-- ========== COLUMN 6 ========== -->
<g>
<text class="t" x="561" y="45" textLength="16" lengthAdjust="spacingAndGlyphs">说明</text>
<text class="t" x="535" y="53" textLength="28" lengthAdjust="spacingAndGlyphs">设备位号说明</text>
<text class="t" x="536" y="61" textLength="4" lengthAdjust="spacingAndGlyphs">P</text><text class="t" x="549" y="61" textLength="8" lengthAdjust="spacingAndGlyphs">泵</text><text class="t" x="578" y="61" textLength="4" lengthAdjust="spacingAndGlyphs">R</text><text class="t" x="590" y="61" textLength="8" lengthAdjust="spacingAndGlyphs">反应</text>
<text class="t" x="536" y="67" textLength="4" lengthAdjust="spacingAndGlyphs">C</text><text class="t" x="549" y="67" textLength="8" lengthAdjust="spacingAndGlyphs">压缩</text><text class="t" x="578" y="67" textLength="4" lengthAdjust="spacingAndGlyphs">T</text><text class="t" x="590" y="67" textLength="8" lengthAdjust="spacingAndGlyphs">塔器</text>
<text class="t" x="536" y="73" textLength="4" lengthAdjust="spacingAndGlyphs">E</text><text class="t" x="549" y="73" textLength="8" lengthAdjust="spacingAndGlyphs">换热</text><text class="t" x="578" y="73" textLength="4" lengthAdjust="spacingAndGlyphs">V</text><text class="t" x="590" y="73" textLength="8" lengthAdjust="spacingAndGlyphs">容器</text>
<text class="t" x="535" y="84" textLength="28" lengthAdjust="spacingAndGlyphs">管道编号说明</text>
<text class="t" x="536" y="91" textLength="4" lengthAdjust="spacingAndGlyphs">P</text><text class="t" x="549" y="91" textLength="8" lengthAdjust="spacingAndGlyphs">工艺</text><text class="t" x="578" y="91" textLength="4" lengthAdjust="spacingAndGlyphs">S</text><text class="t" x="590" y="91" textLength="7" lengthAdjust="spacingAndGlyphs">蒸</text>
<text class="t" x="536" y="97" textLength="4" lengthAdjust="spacingAndGlyphs">W</text><text class="t" x="549" y="97" textLength="8" lengthAdjust="spacingAndGlyphs">水管</text><text class="t" x="578" y="97" textLength="4" lengthAdjust="spacingAndGlyphs">A</text><text class="t" x="590" y="97" textLength="10" lengthAdjust="spacingAndGlyphs">空气管</text>
<text class="t" x="536" y="103" textLength="4" lengthAdjust="spacingAndGlyphs">N</text><text class="t" x="549" y="103" textLength="8" lengthAdjust="spacingAndGlyphs">氮气</text><text class="t" x="578" y="103" textLength="4" lengthAdjust="spacingAndGlyphs">G</text><text class="t" x="590" y="103" textLength="10" lengthAdjust="spacingAndGlyphs">燃气管</text>
<text class="t" x="537" y="113" textLength="20" lengthAdjust="spacingAndGlyphs">材料代号</text>
<text class="t" x="536" y="119" textLength="4" lengthAdjust="spacingAndGlyphs">A</text><text class="t" x="546" y="119" textLength="16" lengthAdjust="spacingAndGlyphs">碳钢管</text><text class="t" x="577" y="119" textLength="4" lengthAdjust="spacingAndGlyphs">G</text><text class="t" x="590" y="119" textLength="10" lengthAdjust="spacingAndGlyphs">铸铁管</text>
<text class="t" x="536" y="125" textLength="4" lengthAdjust="spacingAndGlyphs">B</text><text class="t" x="546" y="125" textLength="10" lengthAdjust="spacingAndGlyphs">不锈</text><text class="t" x="577" y="125" textLength="4" lengthAdjust="spacingAndGlyphs">H</text><text class="t" x="590" y="125" textLength="9" lengthAdjust="spacingAndGlyphs">铜管</text>
<text class="t" x="536" y="131" textLength="4" lengthAdjust="spacingAndGlyphs">C</text><text class="t" x="546" y="131" textLength="10" lengthAdjust="spacingAndGlyphs">合金</text><text class="t" x="577" y="131" textLength="4" lengthAdjust="spacingAndGlyphs">K</text><text class="t" x="590" y="131" textLength="9" lengthAdjust="spacingAndGlyphs">铝管</text>
<text class="t" x="536" y="137" textLength="4" lengthAdjust="spacingAndGlyphs">E</text><text class="t" x="546" y="137" textLength="16" lengthAdjust="spacingAndGlyphs">塑料管材</text><text class="t" x="577" y="137" textLength="4" lengthAdjust="spacingAndGlyphs">L</text><text class="t" x="590" y="137" textLength="8" lengthAdjust="spacingAndGlyphs">衬里</text>
<text class="t" x="537" y="151" textLength="22" lengthAdjust="spacingAndGlyphs">隔热代号</text>
<text class="t" x="536" y="157" textLength="4" lengthAdjust="spacingAndGlyphs">H</text><text class="t" x="548" y="157" textLength="10" lengthAdjust="spacingAndGlyphs">保温</text>
<text class="t" x="536" y="163" textLength="4" lengthAdjust="spacingAndGlyphs">C</text><text class="t" x="548" y="163" textLength="10" lengthAdjust="spacingAndGlyphs">保冷</text>
<text class="t" x="536" y="169" textLength="4" lengthAdjust="spacingAndGlyphs">P</text><text class="t" x="548" y="169" textLength="29" lengthAdjust="spacingAndGlyphs">防烫保护层材料</text>
<text class="t" x="536" y="175" textLength="4" lengthAdjust="spacingAndGlyphs">D</text><text class="t" x="548" y="175" textLength="13" lengthAdjust="spacingAndGlyphs">防结露</text>
<text class="t" x="536" y="181" textLength="4" lengthAdjust="spacingAndGlyphs">S</text><text class="t" x="548" y="181" textLength="10" lengthAdjust="spacingAndGlyphs">伴热</text>
<text class="t" x="563" y="192" textLength="7" lengthAdjust="spacingAndGlyphs">注</text>
<text class="t" x="540" y="201" textLength="50" lengthAdjust="spacingAndGlyphs">1. 设备管道连接说明详见</text>
<text class="t" x="545" y="207" textLength="43" lengthAdjust="spacingAndGlyphs">说明 工艺管道及仪表</text>
<text class="t" x="540" y="216" textLength="53" lengthAdjust="spacingAndGlyphs">2.管道连接详见设备安装说明</text>
<text class="t" x="543" y="225" textLength="15" lengthAdjust="spacingAndGlyphs">详见图</text>
</g>
<path d="M560 46.5H578M535 54.5H563M535 85.5H563M537 114.5H557M537 152.5H559" stroke="#fff"/>

<!-- title block -->
<g fill="none" stroke="#fff" stroke-width="1">
<path d="M486 373V433M486 373H613M486 378.5H613M486 383.5H613M486 388.5H613M486 398.5H613M486 414H557M557 408H599M557 422H613M580 427.5H613"/>
<path d="M493 373V398.5M528 373V398.5M543 373V398.5M557 373V433M571 373V398.5M585 373V398.5M599 373V433M585 427.5V433"/>
</g>
<g>
<text class="t" x="487" y="396" textLength="8" lengthAdjust="spacingAndGlyphs">设计</text>
<text class="t" x="503" y="396" textLength="13" lengthAdjust="spacingAndGlyphs">Ju 计</text>
<text class="t" x="533" y="396" textLength="9" lengthAdjust="spacingAndGlyphs">设计</text>
<text class="t" x="545" y="396" textLength="11" lengthAdjust="spacingAndGlyphs">审核</text>
<text class="t" x="558" y="396" textLength="11" lengthAdjust="spacingAndGlyphs">审定</text>
<text class="t" x="571" y="396" textLength="13" lengthAdjust="spacingAndGlyphs">批准</text>
<text class="t" x="586" y="396" textLength="12" lengthAdjust="spacingAndGlyphs">日期</text>
<text class="t" x="600" y="396" textLength="12" lengthAdjust="spacingAndGlyphs">比例</text>
<text class="t" x="558" y="404" textLength="13" lengthAdjust="spacingAndGlyphs">工程</text>
<text class="t" x="558" y="410" textLength="20" lengthAdjust="spacingAndGlyphs">项目名称</text>
<text class="t" x="558" y="416" textLength="15" lengthAdjust="spacingAndGlyphs">图名</text>
<text class="t" x="558" y="421" textLength="12" lengthAdjust="spacingAndGlyphs">设计</text>
<text class="t" x="558" y="428" textLength="8" lengthAdjust="spacingAndGlyphs">图</text>
<text class="t" x="558" y="433" textLength="8" lengthAdjust="spacingAndGlyphs">号</text>
<text class="t" x="600" y="404" textLength="10" lengthAdjust="spacingAndGlyphs">阶段</text>
<text class="t" x="600" y="419" textLength="12" lengthAdjust="spacingAndGlyphs">图号</text>
<text class="t" x="525" y="429" textLength="8" lengthAdjust="spacingAndGlyphs">图纸</text>
<text class="t s" x="588" y="432.5" textLength="20" lengthAdjust="spacingAndGlyphs">1 : 1</text>
</g>
<rect x="600" y="389" width="8" height="2" fill="#22ff22"/>
</svg>
</body></html>
